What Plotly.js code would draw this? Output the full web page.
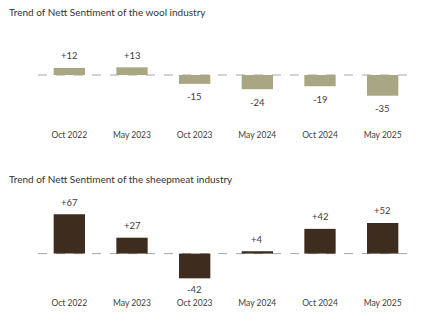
<!DOCTYPE html>
<html>
<head>
<meta charset="utf-8">
<script src="https://cdn.plot.ly/plotly-3.0.1.min.js"></script>
<style>html,body{margin:0;padding:0;background:#fff;}#chart{width:426px;height:325px;}</style>
</head>
<body>
<div id="chart"></div>
<script>
const categories = ["Oct 2022", "May 2023", "Oct 2023", "May 2024", "Oct 2024", "May 2025"];
const woolValues = [12, 13, -15, -24, -19, -35];
const sheepmeatValues = [67, 27, -42, 4, 42, 52];
const woolTitle = "Trend of Nett Sentiment of the wool industry";
const sheepmeatTitle = "Trend of Nett Sentiment of the sheepmeat industry";

const fmt = v => (v > 0 ? "+" + v : String(v));
const FONT = "Lato, 'Open Sans', sans-serif";
const TXT = "#404040";

const traces = [
  {type: "bar", x: categories, y: woolValues, xaxis: "x", yaxis: "y",
   marker: {color: "#a9a783"}, width: 0.5, hoverinfo: "skip"},
  {type: "bar", x: categories, y: sheepmeatValues, xaxis: "x2", yaxis: "y2",
   marker: {color: "#3e2c1f"}, width: 0.5, hoverinfo: "skip"}
];

const annotations = [];
woolValues.forEach((v, i) => annotations.push({
  x: categories[i], y: v, xref: "x", yref: "y", text: fmt(v), showarrow: false,
  yshift: v >= 0 ? 12 : -13, font: {family: FONT, size: 9.5, color: TXT}
}));
sheepmeatValues.forEach((v, i) => annotations.push({
  x: categories[i], y: v, xref: "x2", yref: "y2", text: fmt(v), showarrow: false,
  yshift: v >= 0 ? 12 : -11, font: {family: FONT, size: 9.5, color: TXT}
}));
annotations.push({text: woolTitle, xref: "paper", yref: "paper", x: 7/426, y: 1 - 12/325,
  xanchor: "left", yanchor: "middle", showarrow: false, font: {family: FONT, size: 10, color: "#333333"}});
annotations.push({text: sheepmeatTitle, xref: "paper", yref: "paper", x: 7/426, y: 1 - 179/325,
  xanchor: "left", yanchor: "middle", showarrow: false, font: {family: FONT, size: 10, color: "#333333"}});

const axX = {domain: [38/426, 414/426], showgrid: false, zeroline: false, showline: false,
  ticks: "", tickfont: {family: FONT, size: 8.5, color: TXT}, fixedrange: true};
const axY = {showgrid: false, zeroline: false, showline: false, showticklabels: false, ticks: "", fixedrange: true};

const layout = {
  width: 426, height: 325, margin: {l: 0, r: 0, t: 0, b: 0},
  paper_bgcolor: "#fff", plot_bgcolor: "#fff", showlegend: false, bargap: 0.5,
  xaxis: Object.assign({}, axX, {anchor: "y"}),
  yaxis: Object.assign({}, axY, {domain: [1 - 128/325, 1 - 30/325], range: [-89.5, 76], anchor: "x"}),
  xaxis2: Object.assign({}, axX, {anchor: "y2"}),
  yaxis2: Object.assign({}, axY, {domain: [1 - 296/325, 1 - 195/325], range: [-72, 99.5], anchor: "x2"}),
  shapes: [
    {type: "line", xref: "x domain", yref: "y", x0: 0, x1: 1, y0: 0, y1: 0, layer: "below",
     line: {color: "#a6a6a6", width: 1, dash: "dash"}},
    {type: "line", xref: "x2 domain", yref: "y2", x0: 0, x1: 1, y0: 0, y1: 0, layer: "below",
     line: {color: "#a6a6a6", width: 1, dash: "dash"}}
  ],
  annotations: annotations
};

Plotly.newPlot("chart", traces, layout, {displayModeBar: false, staticPlot: true});
</script>
</body>
</html>
